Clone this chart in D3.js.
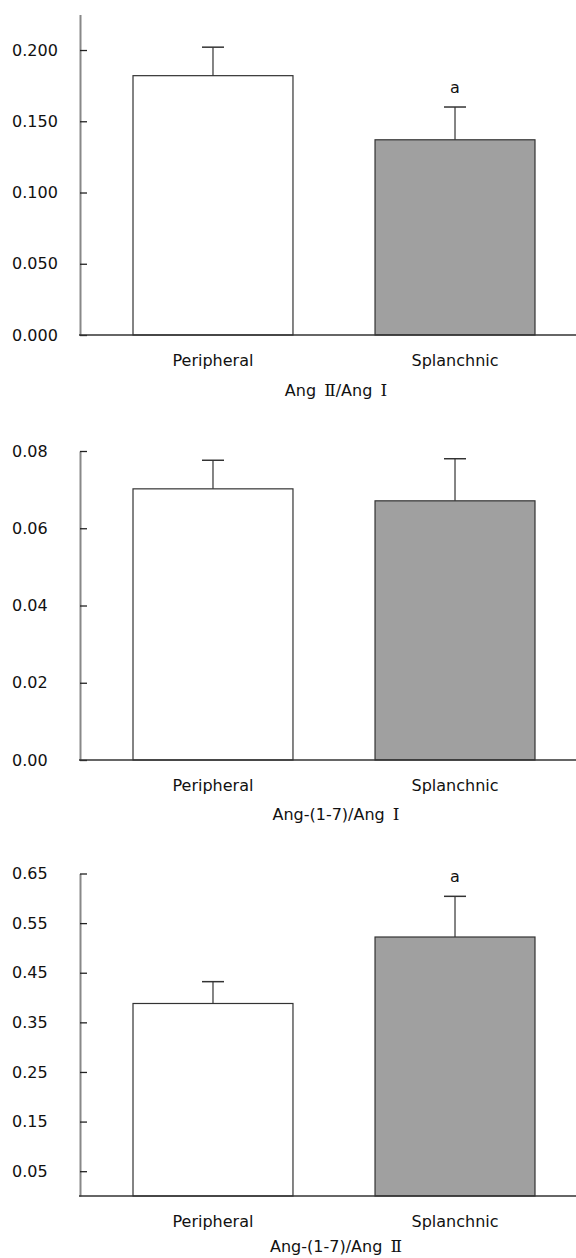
<!DOCTYPE html>
<html>
<head>
<meta charset="utf-8">
<script src="https://cdn.jsdelivr.net/npm/d3@7"></script>
<style>
  body { margin: 0; background: #fff; }
  text { font-family: "DejaVu Sans", Verdana, sans-serif; font-size: 16px; fill: #111; }
</style>
</head>
<body>
<div id="chart"></div>
<script>
const categories = ["Peripheral", "Splanchnic"];

// Ang II / Ang I
const meansAngII_AngI = [0.182, 0.137];
const semAngII_AngI = [0.020, 0.023];
const sigAngII_AngI = ["", "a"];
const ticksAngII_AngI = [0, 0.05, 0.1, 0.15, 0.2];

// Ang-(1-7) / Ang I
const meansAng17_AngI = [0.0702, 0.0671];
const semAng17_AngI = [0.0074, 0.0109];
const sigAng17_AngI = ["", ""];
const ticksAng17_AngI = [0, 0.02, 0.04, 0.06, 0.08];

// Ang-(1-7) / Ang II
const meansAng17_AngII = [0.388, 0.522];
const semAng17_AngII = [0.044, 0.082];
const sigAng17_AngII = ["", "a"];
const ticksAng17_AngII = [0.05, 0.15, 0.25, 0.35, 0.45, 0.55, 0.65];

const width = 576, height = 1258;
const fills = ["#ffffff", "#a0a0a0"];

const svg = d3.select("#chart").append("svg")
    .attr("width", width)
    .attr("height", height);

// one panel per ratio
const panels = [
    { ratio: ["Ang ", "Ⅱ", "/Ang ", "Ⅰ"], means: meansAngII_AngI, sem: semAngII_AngI, sig: sigAngII_AngI,
      ticks: ticksAngII_AngI, yMax: 0.225, fmt: ".3f", top: 14.4, bottom: 335, titleDy: 61 },
    { ratio: ["Ang-(1-7)/Ang ", "Ⅰ"], means: meansAng17_AngI, sem: semAng17_AngI, sig: sigAng17_AngI,
      ticks: ticksAng17_AngI, yMax: 0.08, fmt: ".2f", top: 451, bottom: 760, titleDy: 60 },
    { ratio: ["Ang-(1-7)/Ang ", "Ⅱ"], means: meansAng17_AngII, sem: semAng17_AngII, sig: sigAng17_AngII,
      ticks: ticksAng17_AngII, yMax: 0.65, fmt: ".2f", top: 873.5, bottom: 1196, titleDy: 56 }
];

const axisX = 80;

const x = d3.scaleBand()
    .domain(categories)
    .range([axisX, 588])
    .paddingInner(0.339)
    .paddingOuter(0.219);

panels.forEach(p => {
    const y = d3.scaleLinear().domain([0, p.yMax]).range([p.bottom, p.top]);
    const g = svg.append("g");

    // bars
    g.selectAll("rect.bar")
        .data(categories)
        .enter().append("rect")
        .attr("class", "bar")
        .attr("x", d => x(d))
        .attr("y", (d, i) => y(p.means[i]))
        .attr("width", x.bandwidth())
        .attr("height", (d, i) => y(0) - y(p.means[i]))
        .attr("fill", (d, i) => fills[i])
        .attr("stroke", "#333")
        .attr("stroke-width", 1.2);

    // error bars (upper only)
    const cx = d => x(d) + x.bandwidth() / 2;
    g.selectAll("line.err")
        .data(categories)
        .enter().append("line")
        .attr("x1", cx).attr("x2", cx)
        .attr("y1", (d, i) => y(p.means[i]))
        .attr("y2", (d, i) => y(p.means[i] + p.sem[i]))
        .attr("stroke", "#333").attr("stroke-width", 1.2);
    g.selectAll("line.cap")
        .data(categories)
        .enter().append("line")
        .attr("x1", d => cx(d) - 11).attr("x2", d => cx(d) + 11)
        .attr("y1", (d, i) => y(p.means[i] + p.sem[i]))
        .attr("y2", (d, i) => y(p.means[i] + p.sem[i]))
        .attr("stroke", "#333").attr("stroke-width", 1.5);

    // significance marks
    g.selectAll("text.sig")
        .data(categories)
        .enter().append("text")
        .attr("x", cx)
        .attr("y", (d, i) => y(p.means[i] + p.sem[i]) - 14)
        .attr("text-anchor", "middle")
        .text((d, i) => p.sig[i]);

    // y axis, ticks pointing inward, labels left aligned
    const yAxis = g.append("g")
        .attr("transform", `translate(${axisX},0)`)
        .call(d3.axisLeft(y).tickValues(p.ticks).tickFormat(d3.format(p.fmt))
            .tickSizeInner(-7).tickSizeOuter(0));
    yAxis.select(".domain").attr("stroke", "#888").attr("stroke-width", 2);
    yAxis.selectAll(".tick line").attr("stroke", "#222").attr("stroke-width", 1.3);
    yAxis.selectAll(".tick text")
        .attr("x", 12 - axisX)
        .attr("text-anchor", "start")
        .style("font-size", "16px")
        .style("font-family", "DejaVu Sans, Verdana, sans-serif")
        .attr("fill", "#111");

    // x baseline
    g.append("line")
        .attr("x1", axisX - 1).attr("x2", width)
        .attr("y1", y(0)).attr("y2", y(0))
        .attr("stroke", "#333").attr("stroke-width", 1.5);

    // category labels
    g.selectAll("text.cat")
        .data(categories)
        .enter().append("text")
        .attr("x", cx)
        .attr("y", y(0) + 31)
        .attr("text-anchor", "middle")
        .text(d => d);

    // ratio label, roman numerals set in a serif face with full-width spacing
    const mid = (cx(categories[0]) + cx(categories[1])) / 2;
    const t = g.append("text")
        .attr("x", mid + 2)
        .attr("y", y(0) + p.titleDy)
        .attr("text-anchor", "middle");
    p.ratio.forEach(s => {
        const ts = t.append("tspan").text(s);
        if (/[ⅠⅡ]/.test(s)) {
            ts.style("font-family", "DejaVu Serif, Liberation Serif, serif")
              .style("font-size", "17px")
              .attr("dx", 3);
        }
    });
});
</script>
</body>
</html>
